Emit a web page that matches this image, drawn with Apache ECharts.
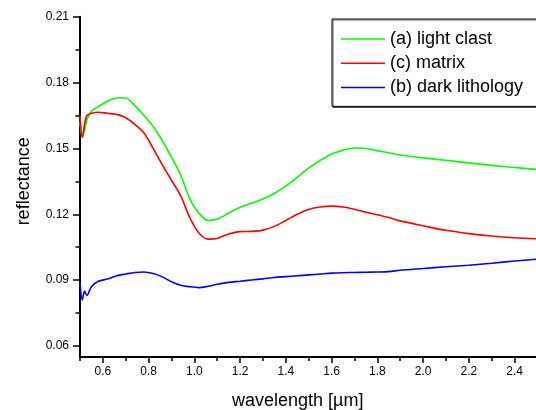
<!DOCTYPE html>
<html>
<head>
<meta charset="utf-8">
<script src="https://cdn.jsdelivr.net/npm/echarts@6/dist/echarts.min.js"></script>
<style>
html,body{margin:0;padding:0;background:#fff;}
#c{width:536px;height:410px;}
</style>
</head>
<body>
<div id="c"></div>
<script>
// wavelength in µm
const wavelength = [0.50,0.51,0.52,0.53,0.55,0.58,0.62,0.66,0.70,0.74,0.78,0.82,0.86,0.90,0.94,0.98,1.02,1.06,1.10,1.15,1.20,1.25,1.30,1.35,1.40,1.45,1.50,1.55,1.60,1.65,1.70,1.75,1.80,1.85,1.90,2.00,2.10,2.20,2.30,2.40,2.50];
const lightClast = [0.162,0.155,0.158,0.163,0.167,0.169,0.1715,0.173,0.173,0.1695,0.165,0.160,0.1535,0.146,0.138,0.127,0.1205,0.1172,0.1178,0.1205,0.1232,0.125,0.127,0.1295,0.1328,0.1368,0.141,0.1445,0.1475,0.1492,0.1502,0.150,0.149,0.148,0.147,0.1457,0.1446,0.1434,0.1423,0.1413,0.1404];
const matrix = [0.165,0.155,0.161,0.165,0.166,0.1665,0.166,0.1655,0.164,0.161,0.157,0.150,0.1425,0.1355,0.1285,0.1185,0.1115,0.1087,0.109,0.111,0.1121,0.1122,0.1128,0.1145,0.1172,0.120,0.1222,0.1233,0.1237,0.1233,0.1223,0.121,0.1198,0.1185,0.117,0.1148,0.1127,0.1112,0.1101,0.1093,0.1088];
const darkLithology = [0.089,0.081,0.085,0.083,0.087,0.0895,0.0905,0.092,0.0928,0.0935,0.0937,0.093,0.0915,0.0893,0.0877,0.087,0.0866,0.0872,0.0881,0.089,0.0895,0.0901,0.0906,0.0912,0.0916,0.092,0.0924,0.0928,0.0932,0.0934,0.0935,0.0936,0.0937,0.0939,0.0945,0.0953,0.0961,0.0968,0.0977,0.0987,0.0996];
const seriesNames = ['(a) light clast','(c) matrix','(b) dark lithology'];
const xTickLabels = ['0.6','0.8','1.0','1.2','1.4','1.6','1.8','2.0','2.2','2.4'];
const yTickLabels = ['0.06','0.09','0.12','0.15','0.18','0.21'];

const FONT = '"Liberation Sans", Arial, sans-serif';
const pair = arr => wavelength.map((w,i)=>[w,arr[i]]);

const chart = echarts.init(document.getElementById('c'), null, {renderer:'canvas'});
chart.setOption({
  animation:false,
  backgroundColor:'#fff',
  grid:[
    {left:80, top:16.7, width:457.4, height:340.3, outerBoundsMode:'none', containLabel:false},
    {left:102.9, top:16.7, width:411.7, height:329.3, outerBoundsMode:'none', containLabel:false}
  ],
  xAxis:[
    {gridIndex:0, type:'value', position:'bottom', min:0.5, max:2.5, interval:0.1,
     axisLine:{show:true, onZero:false, lineStyle:{color:'#000', width:2}},
     axisTick:{show:true, inside:false, length:4, lineStyle:{color:'#000', width:1.5}},
     axisLabel:{show:false}, splitLine:{show:false}},
    {gridIndex:1, type:'value', position:'bottom', min:0.6, max:2.4, interval:0.2, offset:11,
     axisLine:{show:false, onZero:false},
     axisTick:{show:true, inside:false, length:6, lineStyle:{color:'#000', width:1.5}},
     axisLabel:{show:true, margin:9, color:'#000', fontSize:12, fontFamily:FONT,
       formatter:(v)=>{const s=v.toFixed(1); return xTickLabels.includes(s)?s:'';}},
     splitLine:{show:false},
     name:'wavelength [µm]', nameLocation:'middle', nameGap:35,
     nameTextStyle:{color:'#000', fontSize:18, fontFamily:FONT, padding:[0,22,0,0]}}
  ],
  yAxis:[
    {gridIndex:0, type:'value', position:'left', min:0.055, max:0.21,
     axisLine:{show:true, onZero:false, lineStyle:{color:'#000', width:2}},
     axisTick:{show:false}, axisLabel:{show:false}, splitLine:{show:false}},
    {gridIndex:1, type:'value', position:'left', min:0.06, max:0.21, interval:0.03, offset:22.9,
     axisLine:{show:false, onZero:false},
     axisTick:{show:true, inside:false, length:7, lineStyle:{color:'#000', width:1.5}},
     minorTick:{show:true, splitNumber:2, length:4.5, lineStyle:{color:'#000', width:1.5}},
     axisLabel:{show:true, margin:11, color:'#000', fontSize:12, fontFamily:FONT,
       formatter:(v)=>{const s=v.toFixed(2); return yTickLabels.includes(s)?s:'';}},
     splitLine:{show:false},
     name:'reflectance', nameLocation:'middle', nameGap:47,
     nameTextStyle:{color:'#000', fontSize:18, fontFamily:FONT}}
  ],
  legend:{
    show:true, orient:'vertical', left:332, top:19,
    padding:[10,19,9,9], itemGap:4.2, itemWidth:44, itemHeight:1.5,
    icon:'rect',
    backgroundColor:'#fff', borderColor:'#000', borderWidth:1,
    shadowColor:'rgba(0,0,0,0.6)', shadowOffsetX:1, shadowOffsetY:1, shadowBlur:0,
    textStyle:{color:'#000', fontSize:18, fontFamily:FONT, lineHeight:20},
    data:seriesNames
  },
  series:[
    {name:seriesNames[0], type:'line', xAxisIndex:0, yAxisIndex:0, data:pair(lightClast),
     showSymbol:false, smooth:0.3, lineStyle:{color:'#00ff00', width:1.6}, itemStyle:{color:'#00ff00'}},
    {name:seriesNames[1], type:'line', xAxisIndex:0, yAxisIndex:0, data:pair(matrix),
     showSymbol:false, smooth:0.3, lineStyle:{color:'#ff0000', width:1.6}, itemStyle:{color:'#ff0000'}},
    {name:seriesNames[2], type:'line', xAxisIndex:0, yAxisIndex:0, data:pair(darkLithology),
     showSymbol:false, smooth:0.3, lineStyle:{color:'#0000ff', width:1.6}, itemStyle:{color:'#0000ff'}}
  ]
});
</script>
</body>
</html>
